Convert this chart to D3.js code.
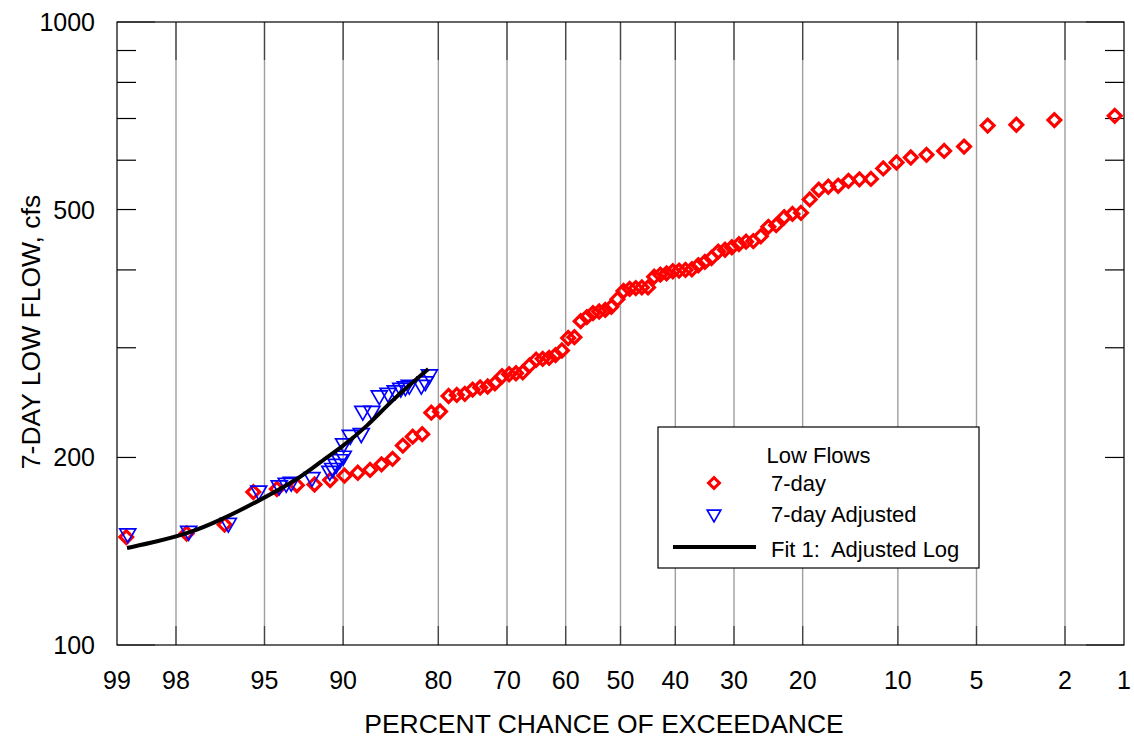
<!DOCTYPE html>
<html>
<head>
<meta charset="utf-8">
<script src="https://cdn.jsdelivr.net/npm/d3@7/dist/d3.min.js"></script>
<style>
html,body{margin:0;padding:0;background:#fff;}
svg{display:block;font-family:"Liberation Sans",Arial,sans-serif;}
</style>
</head>
<body>
<svg id="chart" width="1134" height="742"></svg>
<script>
// ---------- data ----------
const xTickLabels = [99, 98, 95, 90, 80, 70, 60, 50, 40, 30, 20, 10, 5, 2, 1];
const yTickLabels = [100, 200, 500, 1000];
const yMinorTicks = [200, 300, 400, 500, 600, 700, 800, 900];

// 7-day low flows: percent chance of exceedance and flow (cfs)
const sevenDayExceed = [1.12,2.25,3.37,4.49,5.62,6.74,7.87,8.99,10.11,11.24,12.36,13.48,14.61,15.73,16.85,17.98,19.10,20.22,21.35,22.47,23.60,24.72,25.84,26.97,28.09,29.21,30.34,31.46,32.58,33.71,34.83,35.96,37.08,38.20,39.33,40.45,41.57,42.70,43.82,44.94,46.07,47.19,48.31,49.44,50.56,51.69,52.81,53.93,55.06,56.18,57.30,58.43,59.55,60.67,61.80,62.92,64.04,65.17,66.29,67.42,68.54,69.66,70.79,71.91,73.03,74.16,75.28,76.40,77.53,78.65,79.78,80.90,82.02,83.15,84.27,85.39,86.52,87.64,88.76,89.89,91.01,92.13,93.26,94.38,95.51,96.63,97.75,98.88];
const sevenDayFlow = [707,696,684,682,631,621,612,606,595,582,560,559,556,546,544,538,519,494,492,486,472,469,453,445,444,440,435,431,428,418,412,407,401,400,399,398,395,393,390,375,375,374,373,370,359,349,345,343,341,336,331,312,311,297,292,289,288,287,281,274,273,272,270,263,260,259,257,253,252,251,237,236,218,216,209,199,195,191,189,187,184,181,180.5,178,176,156,151,149];

// 7-day adjusted
const adjExceed = [98.86,97.70,96.50,95.27,94.26,93.88,93.59,92.30,91.04,90.82,90.55,90.27,89.99,89.96,89.41,88.45,88.31,87.46,86.75,85.86,85.10,84.50,83.99,83.54,82.13,81.64,81.14];
const adjFlow = [151.0,152.4,157.0,176.9,180.3,182.0,182.7,185.9,190.2,192.3,195.2,198.6,201.2,210.6,217.3,218.7,237.5,237.5,251.5,253.9,256.2,258.6,260.0,261.5,261.5,264.9,271.8];

// Fit 1: Adjusted Log
const fitExceed = [98.87,98.39,97.71,96.80,95.36,93.05,91.73,89.99,87.90,85.94,83.77,81.27];
const fitFlow = [143.1,146.6,151.0,158.4,169.6,185.4,196.7,208.7,224.6,242.7,259.5,277.3];

// ---------- helpers ----------
function probit(p){
  const a=[-3.969683028665376e+01,2.209460984245205e+02,-2.759285104469687e+02,1.383577518672690e+02,-3.066479806614716e+01,2.506628277459239e+00];
  const b=[-5.447609879822406e+01,1.615858368580409e+02,-1.556989798598866e+02,6.680131188771972e+01,-1.328068155288572e+01];
  const c=[-7.784894002430293e-03,-3.223964580411365e-01,-2.400758277161838e+00,-2.549732539343734e+00,4.374664141464968e+00,2.938163982698783e+00];
  const d=[7.784695709041462e-03,3.224671290700398e-01,2.445134137142996e+00,3.754408661907416e+00];
  const plow=0.02425, phigh=1-plow;
  let q,r;
  if(p<plow){q=Math.sqrt(-2*Math.log(p));return (((((c[0]*q+c[1])*q+c[2])*q+c[3])*q+c[4])*q+c[5])/((((d[0]*q+d[1])*q+d[2])*q+d[3])*q+1);}
  if(p<=phigh){q=p-0.5;r=q*q;return (((((a[0]*r+a[1])*r+a[2])*r+a[3])*r+a[4])*r+a[5])*q/(((((b[0]*r+b[1])*r+b[2])*r+b[3])*r+b[4])*r+1);}
  q=Math.sqrt(-2*Math.log(1-p));return -(((((c[0]*q+c[1])*q+c[2])*q+c[3])*q+c[4])*q+c[5])/((((d[0]*q+d[1])*q+d[2])*q+d[3])*q+1);
}

// ---------- layout ----------
const L=117, R=1124, T=22, B=645;
const svg = d3.select("#chart");

const zScale = d3.scaleLinear().domain([-probit(0.99), -probit(0.01)]).range([L, R]);
const x = pct => zScale(-probit(pct/100));
const y = d3.scaleLog().domain([100, 1000]).range([B, T]);

// gridlines
svg.append("g").selectAll("line").data(xTickLabels.slice(1, -1)).join("line")
  .attr("x1", d => x(d)).attr("x2", d => x(d))
  .attr("y1", T).attr("y2", B)
  .attr("stroke", "#9e9e9e").attr("stroke-width", 1.4);

// x ticks (top long, bottom short)
const xt = svg.append("g").attr("stroke", "#444").attr("stroke-width", 1.3);
xt.selectAll(".tt").data(xTickLabels.slice(1, -1)).join("line")
  .attr("x1", d => x(d)).attr("x2", d => x(d)).attr("y1", T).attr("y2", T + 38);
xt.selectAll(".tb").data(xTickLabels.slice(1, -1)).join("line")
  .attr("x1", d => x(d)).attr("x2", d => x(d)).attr("y1", B - 19).attr("y2", B);

// y ticks on both sides
const yt = svg.append("g").attr("stroke", "#000").attr("stroke-width", 1.2);
yt.selectAll(".yl").data(yMinorTicks).join("line")
  .attr("x1", L).attr("x2", L + 19).attr("y1", d => y(d)).attr("y2", d => y(d));
yt.selectAll(".yr").data(yMinorTicks).join("line")
  .attr("x1", R - 19).attr("x2", R).attr("y1", d => y(d)).attr("y2", d => y(d));
yt.selectAll(".yd").data([100, 1000]).join("line")
  .attr("x1", L).attr("x2", L + 38).attr("y1", d => y(d)).attr("y2", d => y(d)).attr("stroke", "#333");
yt.selectAll(".yd2").data([100, 1000]).join("line")
  .attr("x1", R - 38).attr("x2", R).attr("y1", d => y(d)).attr("y2", d => y(d)).attr("stroke", "#333");

// frame
svg.append("rect").attr("x", L).attr("y", T).attr("width", R - L).attr("height", B - T)
  .attr("fill", "none").attr("stroke", "#000").attr("stroke-width", 1.2);

// tick labels
svg.append("g").selectAll("text").data(yTickLabels).join("text")
  .attr("x", 95).attr("y", d => y(d)).attr("dy", "0.36em")
  .attr("text-anchor", "end").attr("font-size", 25).attr("fill", "#000")
  .text(d => d);

svg.append("g").selectAll("text").data(xTickLabels).join("text")
  .attr("x", d => x(d)).attr("y", 689)
  .attr("text-anchor", "middle").attr("font-size", 25).attr("fill", "#000")
  .text(d => d);

// axis titles
svg.append("text").attr("x", 604).attr("y", 733).attr("text-anchor", "middle")
  .attr("font-size", 26.5).attr("fill", "#000").text("PERCENT CHANCE OF EXCEEDANCE");
svg.append("text").attr("transform", "translate(40,332) rotate(-90)").attr("text-anchor", "middle")
  .attr("font-size", 26.5).attr("fill", "#000").text("7-DAY LOW FLOW, cfs");

// symbols
const diamond = d3.symbol().type(d3.symbolSquare).size(82);
const tri = d3.symbol().type(d3.symbolTriangle).size(110);

const reds = sevenDayExceed.map((p, i) => ({p, v: sevenDayFlow[i]}));
svg.append("g").selectAll("path").data(reds).join("path")
  .attr("d", diamond)
  .attr("transform", d => `translate(${x(d.p)},${y(d.v)}) rotate(45)`)
  .attr("fill", "none").attr("stroke", "#ff0000").attr("stroke-width", 3.2);

const blues = adjExceed.map((p, i) => ({p, v: adjFlow[i]}));
svg.append("g").selectAll("path").data(blues).join("path")
  .attr("d", tri)
  .attr("transform", d => `translate(${x(d.p)},${y(d.v)}) rotate(180)`)
  .attr("fill", "none").attr("stroke", "#0000ff").attr("stroke-width", 1.7);

const fit = fitExceed.map((p, i) => ({p, v: fitFlow[i]}));
svg.append("path").datum(fit)
  .attr("d", d3.line().x(d => x(d.p)).y(d => y(d.v)).curve(d3.curveBasis))
  .attr("fill", "none").attr("stroke", "#000").attr("stroke-width", 4);

// legend
const lg = svg.append("g");
lg.append("rect").attr("x", 658).attr("y", 427).attr("width", 321).attr("height", 141)
  .attr("fill", "#fff").attr("stroke", "#000").attr("stroke-width", 1.2);
lg.append("text").attr("x", 818.5).attr("y", 463).attr("text-anchor", "middle")
  .attr("font-size", 22).text("Low Flows");
lg.append("path").attr("d", d3.symbol().type(d3.symbolSquare).size(60)())
  .attr("transform", "translate(714,483) rotate(45)")
  .attr("fill", "none").attr("stroke", "#ff0000").attr("stroke-width", 3);
lg.append("text").attr("x", 771).attr("y", 491).attr("font-size", 22).text("7-day");
lg.append("path").attr("d", d3.symbol().type(d3.symbolTriangle).size(80)())
  .attr("transform", "translate(714,514) rotate(180)")
  .attr("fill", "none").attr("stroke", "#0000ff").attr("stroke-width", 1.7);
lg.append("text").attr("x", 771).attr("y", 522).attr("font-size", 22).text("7-day Adjusted");
lg.append("line").attr("x1", 673).attr("x2", 756).attr("y1", 547).attr("y2", 547)
  .attr("stroke", "#000").attr("stroke-width", 4);
lg.append("text").attr("x", 771).attr("y", 557).attr("font-size", 22)
  .style("white-space", "pre").text("Fit 1:  Adjusted Log");
</script>
</body>
</html>
